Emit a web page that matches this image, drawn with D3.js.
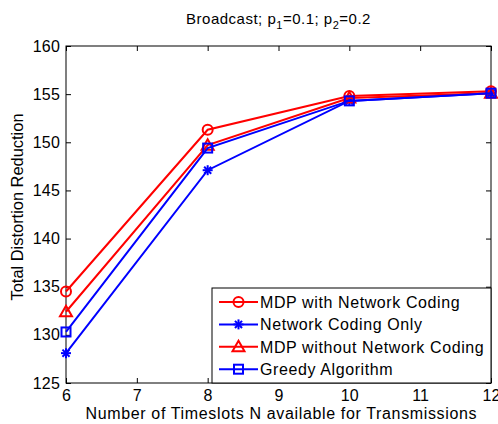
<!DOCTYPE html>
<html>
<head>
<meta charset="utf-8">
<script src="https://cdn.jsdelivr.net/npm/d3@7"></script>
<style>
  body { margin: 0; background: #fff; }
  text { font-family: "Liberation Sans", Arial, sans-serif; }
</style>
</head>
<body>
<div id="chart"></div>
<script>
var timeslots = [6, 8, 10, 12];
var mdpWithNC = [134.5, 151.3, 154.8, 155.3];
var ncOnly = [128.1, 147.1, 154.3, 155.1];
var mdpWithoutNC = [132.4, 149.7, 154.6, 155.1];
var greedy = [130.3, 149.4, 154.3, 155.1];
var xTicks = [6, 7, 8, 9, 10, 11, 12];
var yTicks = [125, 130, 135, 140, 145, 150, 155, 160];

var series = [
    {name: "MDP with Network Coding", values: mdpWithNC, color: "#ff0000", marker: "circle"},
    {name: "Network Coding Only", values: ncOnly, color: "#0000ff", marker: "star"},
    {name: "MDP without Network Coding", values: mdpWithoutNC, color: "#ff0000", marker: "triangle"},
    {name: "Greedy Algorithm", values: greedy, color: "#0000ff", marker: "square"}
];

function drawChart() {
    var width = 498, height = 424;
    var margin = {left: 66, right: 7, top: 46, bottom: 41};

    var svg = d3.select('#chart')
      .append('svg')
        .attr('width', width)
        .attr('height', height);

    var x = d3.scaleLinear().domain([6, 12]).range([margin.left, width - margin.right]);
    var y = d3.scaleLinear().domain([125, 160]).range([height - margin.bottom, margin.top]);

    // title
    var title = svg.append('text')
        .attr('x', (x(6) + x(12)) / 2)
        .attr('y', 24)
        .attr('text-anchor', 'middle')
        .attr('font-size', 15)
        .attr('letter-spacing', 0.5);
    title.append('tspan').text('Broadcast; p');
    title.append('tspan').attr('dy', 5).attr('font-size', 11).text('1');
    title.append('tspan').attr('dy', -5).text('=0.1; p');
    title.append('tspan').attr('dy', 5).attr('font-size', 11).text('2');
    title.append('tspan').attr('dy', -5).text('=0.2');

    // axes (ticks inside, box)
    var tickLen = 5;
    svg.append('g')
        .attr('transform', `translate(0,${y(125)})`)
        .call(d3.axisBottom(x).tickValues(xTicks).tickFormat(d3.format('d')).tickSizeInner(-tickLen).tickSizeOuter(0).tickPadding(7))
        .call(g => g.select('.domain').remove());
    svg.append('g')
        .attr('transform', `translate(0,${y(160)})`)
        .call(d3.axisTop(x).tickValues(xTicks).tickSizeInner(-tickLen).tickSizeOuter(0).tickFormat(''))
        .call(g => g.select('.domain').remove());
    svg.append('g')
        .attr('transform', `translate(${x(6)},0)`)
        .call(d3.axisLeft(y).tickValues(yTicks).tickFormat(d3.format('d')).tickSizeInner(-tickLen).tickSizeOuter(0).tickPadding(6))
        .call(g => g.select('.domain').remove());
    svg.append('g')
        .attr('transform', `translate(${x(12)},0)`)
        .call(d3.axisRight(y).tickValues(yTicks).tickSizeInner(-tickLen).tickSizeOuter(0).tickFormat(''))
        .call(g => g.select('.domain').remove());

    svg.selectAll('.tick text')
        .attr('font-size', 16)
        .attr('letter-spacing', 0.2)
        .attr('font-family', '"Liberation Sans", Arial, sans-serif')
        .attr('fill', '#000');
    svg.selectAll('.tick line').attr('stroke', '#000');

    svg.append('rect')
        .attr('x', x(6)).attr('y', y(160))
        .attr('width', x(12) - x(6)).attr('height', y(125) - y(160))
        .attr('fill', 'none').attr('stroke', '#000').attr('stroke-width', 1);

    // axis labels
    svg.append('text')
        .attr('x', 281)
        .attr('y', 419)
        .attr('text-anchor', 'middle')
        .attr('font-size', 16)
        .attr('textLength', 391)
        .attr('lengthAdjust', 'spacing')
        .text('Number of Timeslots N available for Transmissions');
    svg.append('text')
        .attr('transform', `translate(23,207) rotate(-90)`)
        .attr('text-anchor', 'middle')
        .attr('font-size', 16)
        .attr('textLength', 187)
        .attr('lengthAdjust', 'spacingAndGlyphs')
        .text('Total Distortion Reduction');

    var line = d3.line()
        .x((d, i) => x(timeslots[i]))
        .y(d => y(d));

    function drawMarker(g, type, cx, cy, color) {
        if (type === 'circle') {
            g.append('circle').attr('cx', cx).attr('cy', cy).attr('r', 5)
                .attr('fill', 'none').attr('stroke', color).attr('stroke-width', 2);
        } else if (type === 'square') {
            g.append('rect').attr('x', cx - 4.5).attr('y', cy - 4.5).attr('width', 9).attr('height', 9)
                .attr('fill', 'none').attr('stroke', color).attr('stroke-width', 2);
        } else if (type === 'triangle') {
            g.append('path')
                .attr('d', `M${cx},${cy - 6}L${cx + 6},${cy + 4.5}L${cx - 6},${cy + 4.5}Z`)
                .attr('fill', 'none').attr('stroke', color).attr('stroke-width', 2);
        } else if (type === 'star') {
            var r = 5;
            [0, 45, 90, 135].forEach(a => {
                var rad = a * Math.PI / 180;
                g.append('line')
                    .attr('x1', cx - r * Math.cos(rad)).attr('y1', cy - r * Math.sin(rad))
                    .attr('x2', cx + r * Math.cos(rad)).attr('y2', cy + r * Math.sin(rad))
                    .attr('stroke', color).attr('stroke-width', 2);
            });
        }
    }

    var plot = svg.append('g');
    series.forEach(s => {
        plot.append('path')
            .datum(s.values)
            .attr('d', line)
            .attr('fill', 'none')
            .attr('stroke', s.color)
            .attr('stroke-width', 2);
        s.values.forEach((v, i) => drawMarker(plot, s.marker, x(timeslots[i]), y(v), s.color));
    });

    // legend
    var lx = 212, ly = 288, lw = 279, lh = 95;
    var legend = svg.append('g');
    legend.append('rect')
        .attr('x', lx).attr('y', ly).attr('width', lw).attr('height', lh)
        .attr('fill', '#fff').attr('stroke', '#000').attr('stroke-width', 1);
    series.forEach((s, i) => {
        var cy = ly + 14 + i * 22.4;
        legend.append('line')
            .attr('x1', lx + 7).attr('x2', lx + 46)
            .attr('y1', cy).attr('y2', cy)
            .attr('stroke', s.color).attr('stroke-width', 2);
        drawMarker(legend, s.marker, lx + 26.5, cy, s.color);
        legend.append('text')
            .attr('x', lx + 48).attr('y', cy + 6)
            .attr('font-size', 16)
            .attr('letter-spacing', 0.6)
            .text(s.name);
    });
}

drawChart();
</script>
</body>
</html>
